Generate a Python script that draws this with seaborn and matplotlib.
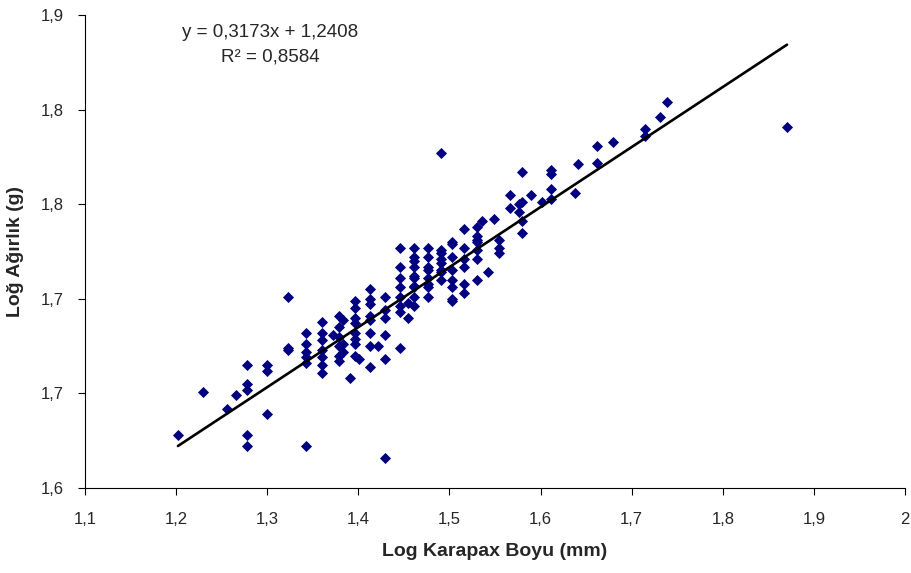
import numpy as np
import pandas as pd
import matplotlib
matplotlib.use("Agg")
import matplotlib.pyplot as plt
import seaborn as sns

# ---- data ----
x_cols = [1.202, 1.230, 1.256, 1.266, 1.278, 1.300, 1.323, 1.343, 1.360, 1.372,
          1.379, 1.383, 1.391, 1.396, 1.401, 1.413, 1.422, 1.429, 1.446, 1.455,
          1.461, 1.477, 1.491, 1.503, 1.516, 1.530, 1.536, 1.542, 1.549, 1.554,
          1.566, 1.576, 1.580, 1.590, 1.602, 1.612, 1.638, 1.641, 1.662, 1.680,
          1.715, 1.731, 1.739, 1.8705]
y_cols = [
    [1.628],
    [1.651],
    [1.642],
    [1.649],
    [1.665, 1.655, 1.652, 1.628, 1.622],
    [1.665, 1.662, 1.639],
    [1.701, 1.674, 1.673],
    [1.682, 1.676, 1.672, 1.669, 1.666, 1.622],
    [1.688, 1.682, 1.678, 1.673, 1.669, 1.665, 1.661],
    [1.681],
    [1.691, 1.685, 1.680, 1.675, 1.670, 1.667],
    [1.689, 1.676, 1.672],
    [1.658],
    [1.699, 1.695, 1.690, 1.687, 1.682, 1.679, 1.676, 1.670],
    [1.668],
    [1.705, 1.700, 1.697, 1.691, 1.689, 1.682, 1.675, 1.664],
    [1.675],
    [1.701, 1.694, 1.690, 1.681, 1.668, 1.616],
    [1.727, 1.717, 1.711, 1.706, 1.701, 1.696, 1.693, 1.674],
    [1.698, 1.690],
    [1.727, 1.722, 1.720, 1.717, 1.712, 1.711, 1.707, 1.706, 1.701, 1.696],
    [1.727, 1.722, 1.717, 1.715, 1.711, 1.708, 1.706, 1.701],
    [1.777, 1.726, 1.724, 1.721, 1.719, 1.715, 1.714, 1.710],
    [1.730, 1.729, 1.722, 1.715, 1.710, 1.706, 1.700, 1.699],
    [1.737, 1.727, 1.721, 1.717, 1.708, 1.703],
    [1.738, 1.733, 1.731, 1.730, 1.726, 1.721, 1.710],
    [1.741],
    [1.714],
    [1.742],
    [1.731, 1.724, 1.727],
    [1.755, 1.748],
    [1.746, 1.750],
    [1.767, 1.751, 1.741, 1.735],
    [1.755],
    [1.751],
    [1.768, 1.766, 1.758, 1.753],
    [1.756],
    [1.771],
    [1.781, 1.772],
    [1.783],
    [1.790, 1.786],
    [1.796],
    [1.804],
    [1.791],
]
slope = 0.3173
intercept = 1.2408
equation_text = "y = 0,3173x + 1,2408"
r2_text = "R² = 0,8584"

x_ticks = [1.1, 1.2, 1.3, 1.4, 1.5, 1.6, 1.7, 1.8, 1.9, 2.0]
x_tick_labels = ["1,1", "1,2", "1,3", "1,4", "1,5", "1,6", "1,7", "1,8", "1,9", "2"]
y_ticks = [1.60, 1.65, 1.70, 1.75, 1.80, 1.85]
y_tick_labels = ["1,6", "1,7", "1,7", "1,8", "1,8", "1,9"]
x_label = "Log Karapax Boyu (mm)"
y_label = "Loğ Ağırlık (g)"

# ---- build table ----
xs, ys = [], []
for xv, yl in zip(x_cols, y_cols):
    for yv in yl:
        xs.append(xv)
        ys.append(yv)
df = pd.DataFrame({"x": xs, "y": ys})
x_line = np.array([df["x"].min(), df["x"].max()])
line_df = pd.DataFrame({"x": x_line, "y": slope * x_line + intercept})

# ---- plot ----
sns.set_style("ticks")
plt.rcParams["font.family"] = ["Liberation Sans", "DejaVu Sans"]

fig = plt.figure(figsize=(9.12, 5.73), dpi=100)
ax = fig.add_axes([85 / 912, (573 - 488) / 573, 820 / 912, 473 / 573])

sns.scatterplot(data=df, x="x", y="y", marker="D", s=32, color="#000080",
                linewidth=0, ax=ax, zorder=3)
sns.lineplot(data=line_df, x="x", y="y", color="black", linewidth=1.9, ax=ax,
             zorder=4)

ax.set_xlim(1.1, 2.0)
ax.set_ylim(1.6, 1.85)
ax.set_xticks(x_ticks)
ax.set_xticklabels(x_tick_labels, fontsize=12)
ax.set_yticks(y_ticks)
ax.set_yticklabels(y_tick_labels, fontsize=12)
ax.tick_params(axis="both", direction="out", length=5, width=0.8, color="black")
ax.tick_params(axis="x", pad=12)
ax.tick_params(axis="y", pad=10)
for s in ["top", "right"]:
    ax.spines[s].set_visible(False)
for s in ["left", "bottom"]:
    ax.spines[s].set_color("black")
    ax.spines[s].set_linewidth(0.8)

ax.set_xlabel(x_label, fontsize=14, fontweight="bold", labelpad=12)
ax.set_ylabel(y_label, fontsize=14, fontweight="bold", labelpad=12)

ax.text(0.2256, 0.964, equation_text, transform=ax.transAxes, ha="center",
        va="center", fontsize=13.5)
ax.text(0.2256, 0.911, r2_text, transform=ax.transAxes, ha="center",
        va="center", fontsize=13.5)

fig.savefig("out.png", dpi=100, facecolor="white")
